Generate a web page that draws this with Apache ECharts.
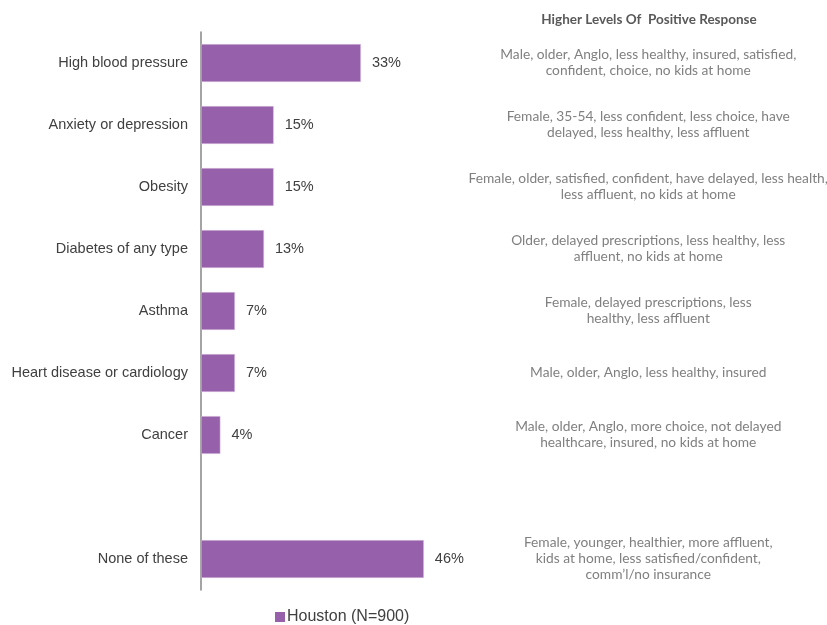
<!DOCTYPE html>
<html>
<head>
<meta charset="utf-8">
<script src="https://cdn.jsdelivr.net/npm/echarts@6/dist/echarts.min.js"></script>
<style>
  html, body { margin:0; padding:0; background:#fff; }
  #chart { width:827px; height:625px; }
</style>
</head>
<body>
<div id="chart"></div>
<script>
// categories top to bottom, '' is the empty gap row
const categories = ['High blood pressure', 'Anxiety or depression', 'Obesity', 'Diabetes of any type', 'Asthma', 'Heart disease or cardiology', 'Cancer', '', 'None of these'];
const houston = [33, 15, 15, 13, 7, 7, 4, null, 46];
const notes = [
    'Male, older, Anglo, less healthy, insured, satisfied,\nconfident, choice, no kids at home',
    'Female, 35-54, less confident, less choice, have\ndelayed, less healthy, less affluent',
    'Female, older, satisfied, confident, have delayed, less health,\nless affluent, no kids at home',
    'Older, delayed prescriptions, less healthy, less\naffluent, no kids at home',
    'Female, delayed prescriptions, less\nhealthy, less affluent',
    'Male, older, Anglo, less healthy, insured',
    'Male, older, Anglo, more choice, not delayed\nhealthcare, insured, no kids at home',
    '',
    'Female, younger, healthier, more affluent,\nkids at home, less satisfied/confident,\ncomm\u2019l/no insurance'
];

const noteStyle = {
    fontFamily:'Lato', fontSize:13.75, color:'#808080',
    align:'center', lineHeight:16
};

const myChart = echarts.init(document.getElementById('chart'));
let option = {
    animation:false,
    title:{
        text:'Higher Levels Of  Positive Response',
        left:644,
        top:8,
        textAlign:'center',
        textStyle:{ fontFamily:'Lato', fontSize:13.5, fontWeight:'bold', color:'#595959' }
    },
    legend:{
        left:270,
        top:604,
        icon:'rect',
        itemWidth:10,
        itemHeight:10,
        itemGap:4,
        itemStyle:{ borderWidth:0 },
        textStyle:{ fontFamily:'Liberation Sans', fontSize:16, color:'#404040', padding:[0,0,0,-3] },
        data:['Houston (N=900)']
    },
    grid:{
        left:201,
        top:32,
        width:242.25,
        height:558,
        containLabel:false,
        outerBoundsMode:'none'
    },
    xAxis:{
        type:'value',
        min:0,
        max:50,
        show:false
    },
    yAxis:[{
        type:'category',
        inverse:true,
        data:categories,
        axisLine:{ lineStyle:{ color:'#868686', width:1.5 } },
        axisTick:{ show:false },
        axisLabel:{ fontFamily:'Liberation Sans', fontSize:14.5, color:'#404040', margin:13 }
    },{
        type:'category',
        inverse:true,
        position:'right',
        data:notes,
        axisLine:{ show:false },
        axisTick:{ show:false },
        axisLabel:Object.assign({ margin:205 }, noteStyle)
    }],
    series:[{
        type:'bar',
        name:'Houston (N=900)',
        data:houston,
        barCategoryGap:'39%',
        itemStyle:{ color:'#9661aa', borderColor:'#dcc6e4', borderWidth:0.5 },
        label:{
            show:true,
            position:'right',
            distance:11,
            formatter:'{c}%',
            fontFamily:'Liberation Sans',
            fontSize:14.5,
            color:'#404040'
        }
    }]
};
myChart.setOption(option);
</script>
</body>
</html>
